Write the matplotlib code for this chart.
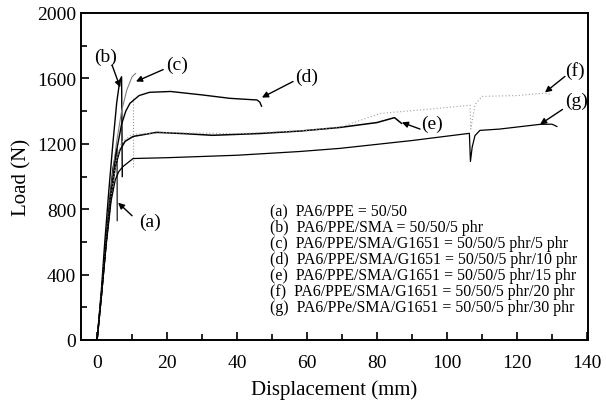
import matplotlib
matplotlib.use("Agg")
import matplotlib.pyplot as plt
from matplotlib.ticker import MultipleLocator

plt.rcParams['font.family'] = ['Liberation Serif', 'DejaVu Serif']

# load-displacement curves (mm, N)
a_x = [0, 1.2, 2.5, 3.5, 4.5, 5.2, 5.7, 5.75]
a_y = [0, 280, 600, 850, 1050, 1130, 1170, 730]

b_x = [0, 1.2, 2.2, 3.3, 4.5, 5.6, 6.5, 7.0, 7.2]
b_y = [0, 300, 600, 900, 1200, 1450, 1590, 1610, 1000]

c_x = [0, 1.3, 2.6, 4.0, 5.5, 7.0, 8.5, 10.0, 11.0]
c_y = [0, 280, 600, 920, 1200, 1400, 1530, 1610, 1630]
c_drop_x = [10.3, 10.3]
c_drop_y = [1480, 1060]

d_x = [0, 1.3, 2.6, 4.0, 5.5, 7.0, 8.2, 9.4, 12, 15, 21, 30, 38, 45.7, 46.5, 47.0]
d_y = [0, 290, 600, 900, 1150, 1320, 1400, 1448, 1495, 1515, 1520, 1499, 1478, 1468, 1455, 1430]

e_x = [0, 1.3, 2.6, 4.0, 5.2, 6.5, 8.0, 10.3, 17, 25, 33, 46.6, 58, 69.4, 80, 85, 87]
e_y = [0, 290, 600, 880, 1060, 1160, 1215, 1245, 1270, 1262, 1252, 1263, 1278, 1300, 1330, 1360, 1325]

f_x = [0, 1.3, 2.6, 4.0, 5.5, 7.0, 10, 20, 40, 60, 70, 81, 95, 106.6, 106.8, 108, 110, 120, 128, 130]
f_y = [0, 290, 600, 880, 1100, 1210, 1258, 1268, 1262, 1282, 1305, 1386, 1412, 1436, 1290, 1440, 1490, 1495, 1510, 1500]

g_x = [0, 1.3, 2.6, 4.0, 5.2, 6.2, 7.4, 10.3, 20, 40, 58, 69.4, 90, 106.4, 106.7, 107.2, 108, 109.4, 115, 126.6, 130, 131.4]
g_y = [0, 280, 580, 850, 980, 1030, 1061, 1110, 1115, 1130, 1153, 1172, 1220, 1264, 1092, 1180, 1250, 1282, 1290, 1319, 1320, 1306]

legend_lines = [
    "(a)  PA6/PPE = 50/50",
    "(b)  PA6/PPE/SMA = 50/50/5 phr",
    "(c)  PA6/PPE/SMA/G1651 = 50/50/5 phr/5 phr",
    "(d)  PA6/PPE/SMA/G1651 = 50/50/5 phr/10 phr",
    "(e)  PA6/PPE/SMA/G1651 = 50/50/5 phr/15 phr",
    "(f)  PA6/PPE/SMA/G1651 = 50/50/5 phr/20 phr",
    "(g)  PA6/PPe/SMA/G1651 = 50/50/5 phr/30 phr",
]

# label text position, arrow tail, arrow head (data coords)
labels = {
    "(a)": ((15.1, 723), (10.0, 760), (6.0, 840)),
    "(b)": ((2.3, 1734), (4.3, 1680), (6.6, 1545)),
    "(c)": ((22.9, 1685), (18.9, 1654), (11.1, 1581)),
    "(d)": ((60.0, 1612), (56.0, 1581), (47.1, 1483)),
    "(e)": ((95.7, 1325), (92.3, 1290), (87.1, 1331)),
    "(f)": ((136.6, 1650), (133.7, 1612), (128.0, 1514)),
    "(g)": ((137.0, 1465), (133.0, 1410), (126.6, 1319)),
}

fig = plt.figure(figsize=(6.06, 4.06), dpi=100)
ax = fig.add_axes([81 / 606, 1 - 341 / 406, 507 / 606, 327 / 406])

ax.plot(a_x, a_y, color='black', lw=0.8)
ax.plot(b_x, b_y, color='black', lw=1.0)
ax.plot(c_x, c_y, color='gray', lw=0.8)
ax.plot(c_drop_x, c_drop_y, color='#999999', lw=0.8, linestyle=':')
ax.plot(d_x, d_y, color='black', lw=1.0)
ax.plot(e_x, e_y, color='black', lw=1.1)
ax.plot(f_x, f_y, color='#a0a0a0', lw=0.8, linestyle=(0, (1, 2)))
ax.plot(g_x, g_y, color='black', lw=0.9)

for name, (txt, tail, head) in labels.items():
    ax.text(txt[0], txt[1], name, fontsize=14, ha='center', va='center')
    ax.annotate("", xy=head, xytext=tail,
                arrowprops=dict(arrowstyle='-|>', color='black', lw=1.0,
                                mutation_scale=9, shrinkA=0, shrinkB=0))

# legend block, placed in figure pixels (from top-left)
for i, line in enumerate(legend_lines):
    fig.text(270 / 606, 1 - (212 + 16 * i) / 406, line, fontsize=11.4,
             va='center', ha='left')

ax.set_xlim(-4.6, 140.3)
ax.set_ylim(0, 2000)
ax.xaxis.set_major_locator(MultipleLocator(20))
ax.xaxis.set_minor_locator(MultipleLocator(10))
ax.yaxis.set_major_locator(MultipleLocator(400))
ax.yaxis.set_minor_locator(MultipleLocator(200))
ax.tick_params(which='both', direction='in', labelsize=14, width=1.2)
ax.tick_params(axis='x', pad=10)
ax.tick_params(which='major', length=6)
ax.tick_params(which='minor', length=4)
for sp in ax.spines.values():
    sp.set_linewidth(1.4)

ax.set_xlabel("Displacement (mm)", fontsize=15, labelpad=6)
ax.set_ylabel("Load (N)", fontsize=15, labelpad=4)

fig.savefig("out.png", dpi=100)
